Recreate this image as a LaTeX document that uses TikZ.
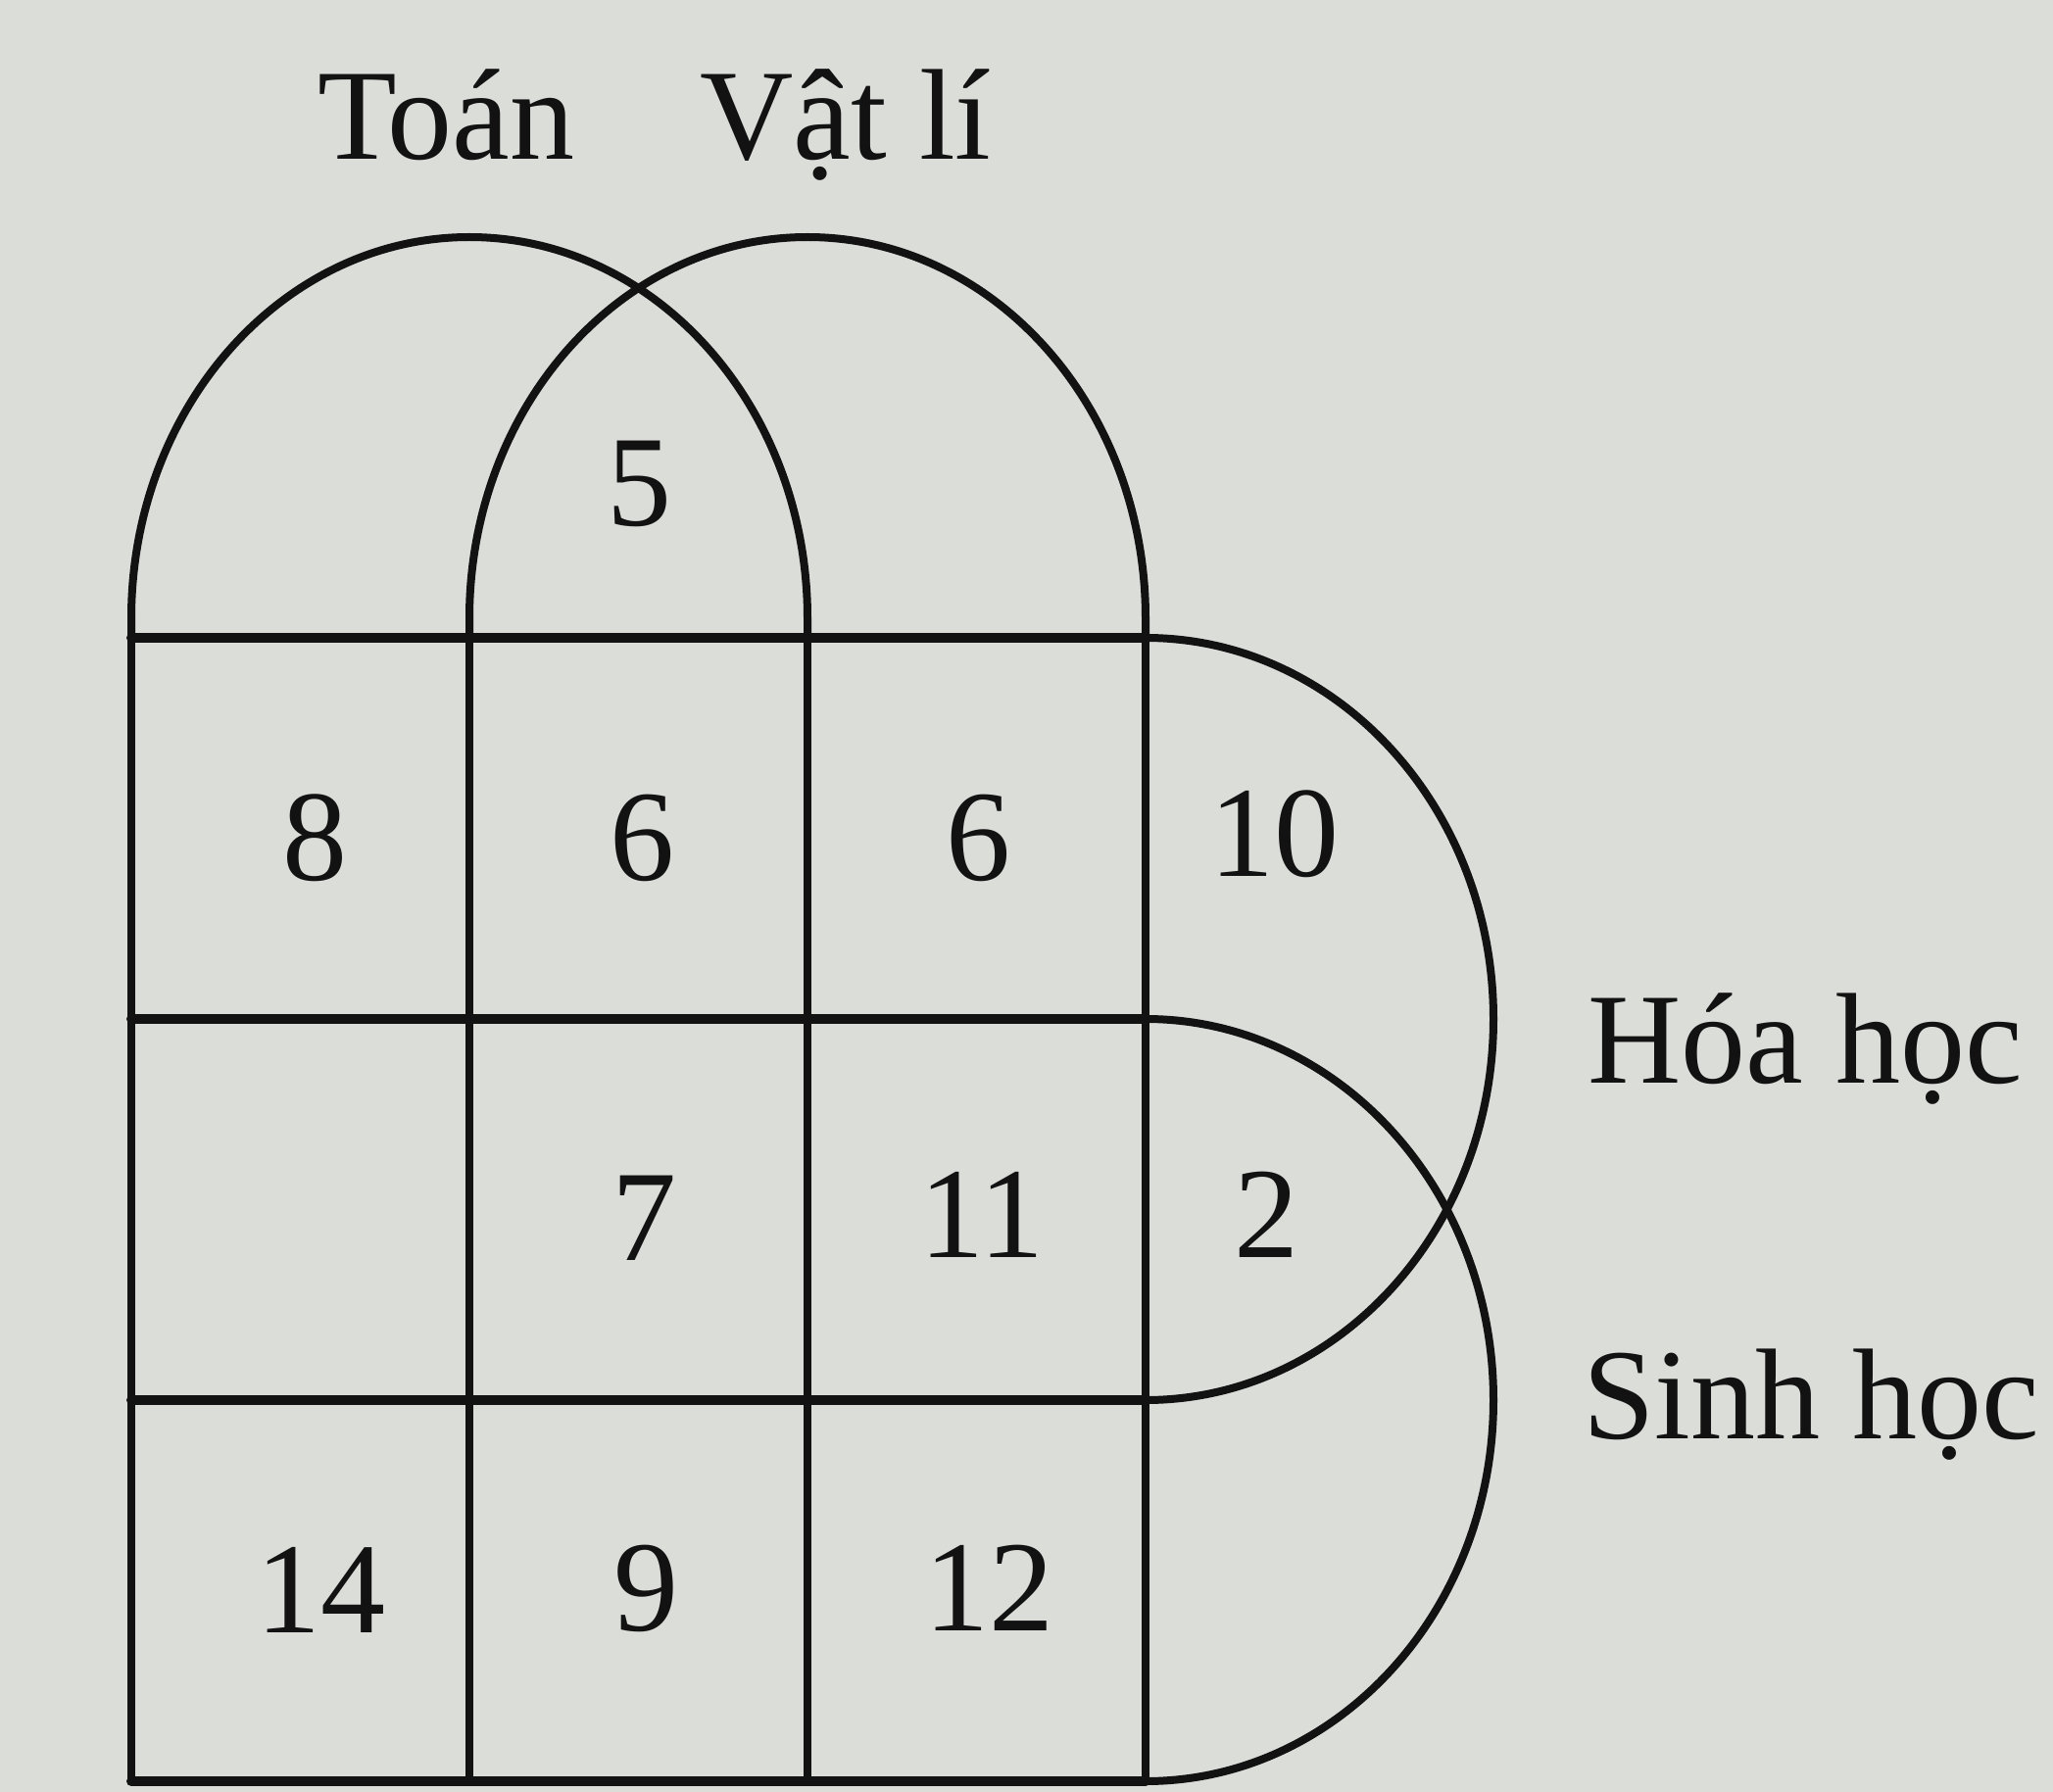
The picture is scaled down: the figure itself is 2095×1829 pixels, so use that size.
\documentclass[tikz,border=0pt]{standalone}
\usepackage{fontspec}
\setmainfont{Liberation Serif}
\definecolor{paper}{RGB}{219,221,217}
\definecolor{ink}{RGB}{18,18,18}
\begin{document}
\begin{tikzpicture}[x=0.5pt,y=-0.5pt,
  hline/.style={draw=ink,line width=5pt,line cap=round},
  vline/.style={draw=ink,line width=4.2pt},
  curve/.style={draw=ink,line width=4pt},
  num/.style={font=\fontsize{66}{79}\selectfont,text=ink,inner sep=0pt},
  lbl/.style={font=\fontsize{66}{79}\selectfont,text=ink,inner sep=0pt}]
\fill[paper] (0,0) rectangle (2095,1829);
\useasboundingbox (0,0) rectangle (2095,1829);
% grid coordinates
\coordinate (a0) at (134,651);  \coordinate (a1) at (479,651);  \coordinate (a2) at (824,651);  \coordinate (a3) at (1169,651);
\coordinate (b0) at (134,1040); \coordinate (b3) at (1169,1040);
\coordinate (c0) at (134,1429); \coordinate (c3) at (1169,1429);
\coordinate (d0) at (134,1818); \coordinate (d1) at (479,1818); \coordinate (d2) at (824,1818); \coordinate (d3) at (1169,1818);
% horizontal lines
\draw[hline] (a0) -- (a3);
\draw[hline] (b0) -- (b3);
\draw[hline] (c0) -- (c3);
\draw[hline] (d0) -- (d3);
% vertical lines
\draw[vline] (a0) -- (d0);
\draw[vline] (a1) -- (d1);
\draw[vline] (a2) -- (d2);
\draw[vline] (a3) -- (d3);
% top arcs (Toan, Vat li)
\draw[curve] (a0) -- (134,631) arc[start angle=180,end angle=0,x radius=172.5pt,y radius=194.5pt] -- (a2);
\draw[curve] (a1) -- (479,631) arc[start angle=180,end angle=0,x radius=172.5pt,y radius=194.5pt] -- (a3);
% side arcs (Hoa hoc, Sinh hoc)
\draw[curve] (a3) arc[start angle=90,end angle=-90,x radius=177.5pt,y radius=194.5pt];
\draw[curve] (b3) arc[start angle=90,end angle=-90,x radius=177.5pt,y radius=194.5pt];
% numbers
\node[num] (n5)  at (652,494)  {5};
\node[num] (n8)  at (321,855)  {8};
\node[num] (n6a) at (655,855)  {6};
\node[num] (n6b) at (998,855)  {6};
\node[num] (n10) at (1300,851) {10};
\node[num] (n7)  at (657,1243) {7};
\node[num] (n11) at (1002,1240) {11};
\node[num] (n2)  at (1292,1240) {2};
\node[num] (n14) at (327,1623) {14};
\node[num] (n9)  at (659,1621) {9};
\node[num] (n12) at (1009,1621) {12};
% labels
\node[lbl,anchor=base] (toan) at (455,163) {Toán};
\node[lbl,anchor=base] (vatli) at (863,163) {Vật lí};
\node[lbl,anchor=base west] (hoa) at (1620,1105) {Hóa học};
\node[lbl,anchor=base west] (sinh) at (1615,1468) {Sinh học};
\end{tikzpicture}
\end{document}
